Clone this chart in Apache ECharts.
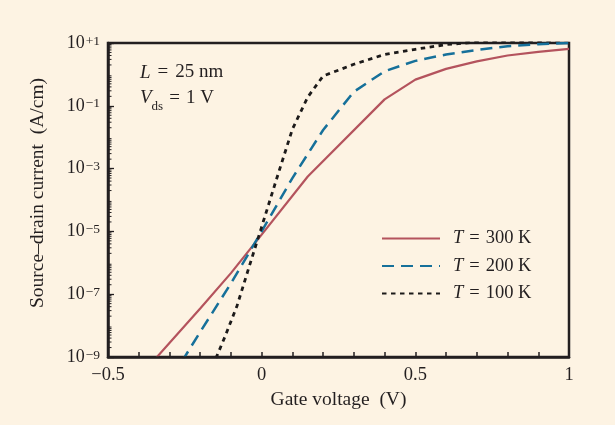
<!DOCTYPE html>
<html>
<head>
<meta charset="utf-8">
<script src="https://cdn.jsdelivr.net/npm/echarts@6/dist/echarts.min.js"></script>
<style>
html, body { margin: 0; padding: 0; background: #fdf3e3; }
#tubiao { width: 615px; height: 425px; }
</style>
</head>
<body>
<div id="tubiao"></div>
<script>
// gate voltage (V) / source-drain current (A/cm)
var gateV300 = [-0.35, -0.2, -0.1, 0, 0.15, 0.4, 0.5, 0.6, 0.7, 0.8, 0.9, 1.0];
var current300 = [7.9e-10, 3.5e-8, 4.7e-7, 7.9e-6, 5.6e-4, 0.16, 0.68, 1.5, 2.6, 4.0, 5.2, 6.5];

var gateV200 = [-0.26, -0.2, -0.1, 0, 0.1, 0.2, 0.3, 0.4, 0.5, 0.6, 0.7, 0.8, 0.9, 1.0];
var current200 = [7.1e-10, 6.3e-9, 2.2e-7, 1.0e-5, 5.0e-4, 1.7e-2, 0.28, 1.26, 2.7, 4.3, 6.0, 7.9, 9.1, 10];

var gateV100 = [-0.16, -0.12, -0.08, -0.04, 0, 0.05, 0.1, 0.15, 0.2, 0.3, 0.4, 0.5, 0.6, 0.7, 1.0];
var current100 = [5.0e-10, 4.3e-9, 4.3e-8, 7.9e-7, 1.4e-5, 5.2e-4, 1.8e-2, 0.19, 0.89, 2.1, 4.3, 6.3, 8.9, 10.7, 12.6];

var seriesNames = ['300 K', '200 K', '100 K'];

var xTickVals = [-0.5, 0, 0.5, 1];
var xTickLabels = ['\u22120.5', '0', '0.5', '1'];

var yTickExp = [-9, -7, -5, -3, -1, 1];
var yTickSup = ['\u22129', '\u22127', '\u22125', '\u22123', '\u22121', '+1'];

// log minor ticks on the left axis: 2..9 x every decade
var yMinorMantissa = [2, 3, 4, 5, 6, 7, 8, 9];
var yMinorDecades = [-9, -8, -7, -6, -5, -4, -3, -2, -1, 0];

function pairs(xs, ys) {
    var out = [];
    for (var i = 0; i < xs.length; i++) out.push([xs[i], ys[i]]);
    return out;
}

var minorTicks = [];
yMinorDecades.forEach(function (d) {
    yMinorMantissa.forEach(function (m) { minorTicks.push([-0.5, m * Math.pow(10, d)]); });
});

var serif = 'Liberation Serif';
var ink = '#231f20';

var myChart = echarts.init(document.getElementById('tubiao'));
var option = {
    animation: false,
    backgroundColor: '#fdf3e3',
    textStyle: { fontFamily: serif },
    grid: {
        left: 108, right: 46, top: 43, bottom: 68,
        show: true, borderColor: ink, borderWidth: 2.5,
        backgroundColor: 'transparent',
        containLabel: false, outerBoundsMode: 'none'
    },
    legend: {
        orient: 'vertical',
        left: 381, top: 229,
        padding: 0,
        itemWidth: 58, itemHeight: 14, itemGap: 8.5,
        data: seriesNames,
        itemStyle: { opacity: 0 },
        formatter: function (name) { return '{i|T}{e|=}' + name; },
        textStyle: {
            fontFamily: serif, fontSize: 18.5, color: ink,
            rich: {
                i: { fontFamily: serif, fontSize: 18.5, fontStyle: 'italic', color: ink, padding: [0, 0, 0, 8] },
                e: { fontFamily: serif, fontSize: 18.5, color: ink, padding: [0, 6, 0, 6] }
            }
        }
    },
    graphic: [
        {
            type: 'text', left: 140, top: 63,
            style: {
                text: '{i|L}{e|=}25 nm',
                font: '19px ' + serif, fill: ink,
                rich: {
                    i: { fontFamily: serif, fontSize: 19, fontStyle: 'italic', fill: ink },
                    e: { fontFamily: serif, fontSize: 19, fill: ink, padding: [0, 7, 0, 7] }
                }
            }
        },
        {
            type: 'text', left: 140, top: 83,
            style: {
                text: '{i|V}{sub|ds}{e|=}1 V',
                font: '19px ' + serif, fill: ink, lineHeight: 30,
                rich: {
                    i: { fontFamily: serif, fontSize: 19, fontStyle: 'italic', fill: ink },
                    sub: { fontFamily: serif, fontSize: 13, fill: ink, verticalAlign: 'bottom', lineHeight: 13 },
                    e: { fontFamily: serif, fontSize: 19, fill: ink, padding: [0, 6, 0, 6] }
                }
            }
        }
    ],
    xAxis: {
        type: 'value',
        min: -0.5, max: 1, interval: 0.1,
        name: 'Gate voltage  (V)',
        nameLocation: 'middle', nameGap: 33,
        nameTextStyle: { fontFamily: serif, fontSize: 19.5, color: ink },
        axisLine: { show: true, onZero: false, lineStyle: { color: ink, width: 2.5 } },
        axisTick: { show: true, inside: true, length: 5, lineStyle: { color: ink, width: 1.5 } },
        splitLine: { show: false },
        axisLabel: {
            margin: 9, fontFamily: serif, fontSize: 18.5, color: ink,
            formatter: function (v) {
                for (var i = 0; i < xTickVals.length; i++) {
                    if (Math.abs(v - xTickVals[i]) < 1e-6) return xTickLabels[i];
                }
                return '';
            }
        },
        z: 5
    },
    yAxis: {
        type: 'log', logBase: 10,
        min: 1e-9, max: 10, interval: 2,
        name: 'Source\u2013drain current  (A/cm)',
        nameLocation: 'middle', nameGap: 60, nameRotate: 90,
        nameTextStyle: { fontFamily: serif, fontSize: 19.5, color: ink, padding: [0, 0, 0, 14] },
        axisLine: { show: true, onZero: false, lineStyle: { color: ink, width: 2.5 } },
        axisTick: { show: true, inside: true, length: 6, lineStyle: { color: ink, width: 1.3 } },
        splitLine: { show: false },
        axisLabel: {
            margin: 8, fontFamily: serif, color: ink, lineHeight: 21,
            formatter: function (v) {
                var e = Math.round(Math.log10(v));
                var k = yTickExp.indexOf(e);
                if (k < 0) return '';
                return '{b|10}{s|' + yTickSup[k] + '}';
            },
            rich: {
                b: { fontFamily: serif, fontSize: 18, color: ink, verticalAlign: 'bottom', lineHeight: 18 },
                s: { fontFamily: serif, fontSize: 13.5, color: ink, verticalAlign: 'top', lineHeight: 13, padding: [0, 0, 0, 1] }
            }
        },
        z: 5
    },
    series: [
        {
            name: seriesNames[0], type: 'line', symbol: 'none',
            data: pairs(gateV300, current300),
            itemStyle: { color: '#b4535d' },
            lineStyle: { color: '#b4535d', width: 2.2, type: 'solid' }
        },
        {
            name: seriesNames[1], type: 'line', symbol: 'none',
            data: pairs(gateV200, current200),
            itemStyle: { color: '#16709a' },
            lineStyle: { color: '#16709a', width: 2.5, type: [12, 7] }
        },
        {
            name: seriesNames[2], type: 'line', symbol: 'none',
            data: pairs(gateV100, current100),
            itemStyle: { color: '#1c1a1a' },
            lineStyle: { color: '#1c1a1a', width: 2.8, type: [4.5, 4.5] }
        },
        {
            name: 'minor ticks', type: 'custom', silent: true, z: 6,
            data: minorTicks,
            renderItem: function (params, api) {
                var p = api.coord([api.value(0), api.value(1)]);
                return {
                    type: 'line',
                    shape: { x1: p[0], y1: p[1], x2: p[0] + 3.5, y2: p[1] },
                    style: { stroke: ink, lineWidth: 1 }
                };
            }
        }
    ]
};
myChart.setOption(option);
</script>
</body>
</html>
